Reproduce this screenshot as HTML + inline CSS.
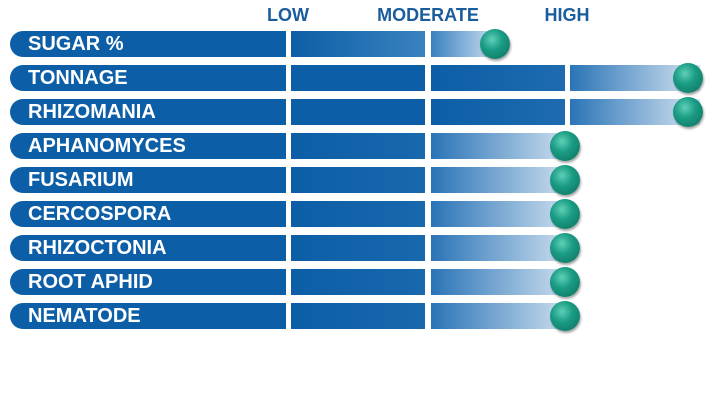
<!DOCTYPE html><html><head><style>
body{margin:0;width:716px;height:403px;background:#fff;position:relative;overflow:hidden;font-family:"Liberation Sans",sans-serif}
.h{position:absolute;top:5px;font-weight:bold;font-size:18px;color:#1b5c9c;transform:translateX(-50%)}
.s{position:absolute;height:26px}
.l{border-radius:13px 0 0 13px;background:#0c5ea6;color:#fff;font-weight:bold;font-size:20px;line-height:27px;padding-left:18px;box-sizing:border-box}
.b{position:absolute;width:30px;height:30px;border-radius:50%;background:radial-gradient(circle at 40% 35%,#5fd0b8 0%,#1a9c84 40%,#0e6e5c 100%);box-shadow:1px 2px 2px rgba(0,0,0,.35)}
</style></head><body>
<div class="h" style="left:288px">LOW</div>
<div class="h" style="left:428px">MODERATE</div>
<div class="h" style="left:567px">HIGH</div>
<div id="c"></div>
<script>
const rows=[["SUGAR %",3],["TONNAGE",4],["RHIZOMANIA",4],["APHANOMYCES",3.5],["FUSARIUM",3.5],["CERCOSPORA",3.5],["RHIZOCTONIA",3.5],["ROOT APHID",3.5],["NEMATODE",3.5]];
let h="";
const segs=[[291,425],[431,565],[570,700]];
rows.forEach((r,i)=>{const y=31+i*34;
h+=`<div class="s l" style="left:10px;top:${y}px;width:276px">${r[0]}</div>`;
let ball;
if(r[1]==3){segs.slice(0,2).forEach((s,k)=>{let w=k==1?64:s[1]-s[0];let bg=k==0?"linear-gradient(90deg,#0c5ea6,#3a82c0)":"linear-gradient(90deg,#3a82c0,#c8dcee)";h+=`<div class="s" style="left:${s[0]}px;top:${y}px;width:${w}px;background:${bg}"></div>`});ball=495;}
else if(r[1]==4){segs.forEach((s,k)=>{let bg=k==0?"#0c5ea6":k==1?"linear-gradient(90deg,#0c5ea6,#1e6bb0)":"linear-gradient(90deg,#2a74b6,#d5e4f2)";h+=`<div class="s" style="left:${s[0]}px;top:${y}px;width:${s[1]-s[0]}px;background:${bg}"></div>`});ball=688;}
else{segs.slice(0,2).forEach((s,k)=>{let w=s[1]-s[0];let bg=k==0?"linear-gradient(90deg,#0c5ea6,#1868ae)":"linear-gradient(90deg,#2a74b6,#c8dcee)";h+=`<div class="s" style="left:${s[0]}px;top:${y}px;width:${w}px;background:${bg}"></div>`});ball=565;}
h+=`<div class="b" style="left:${ball-15}px;top:${y-2}px"></div>`;
});
document.getElementById("c").innerHTML=h;
</script></body></html>
